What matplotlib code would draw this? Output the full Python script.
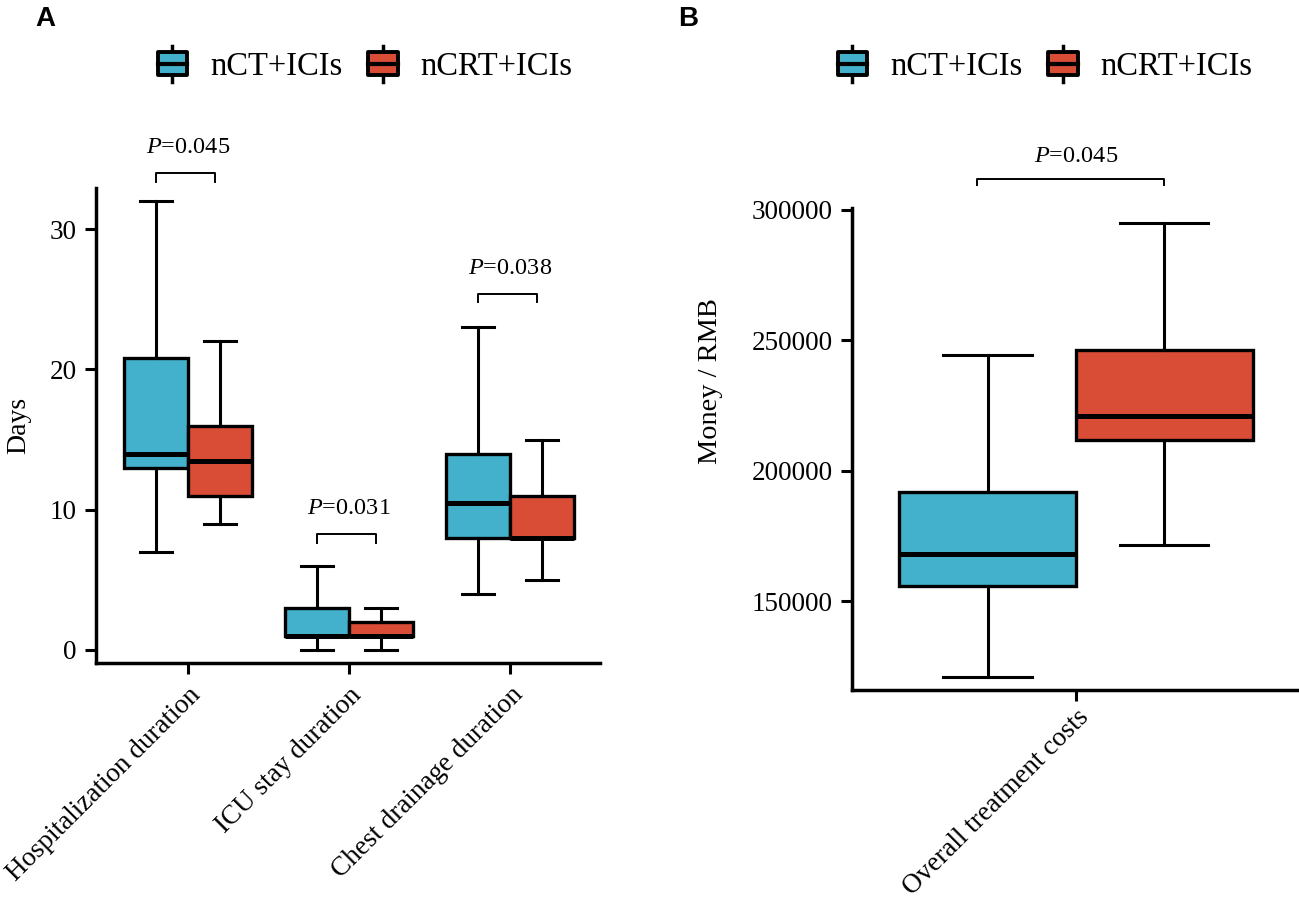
import matplotlib.pyplot as plt
from matplotlib.legend_handler import HandlerBase
from matplotlib.patches import Patch, Rectangle
from matplotlib.lines import Line2D

plt.rcParams['font.family'] = ['Liberation Serif', 'DejaVu Serif']
plt.rcParams['mathtext.fontset'] = 'custom'
plt.rcParams['mathtext.rm'] = 'Liberation Serif'
plt.rcParams['mathtext.it'] = 'Liberation Serif:italic'

groups = ['nCT+ICIs', 'nCRT+ICIs']
colors = ['#44B1CC', '#D94C36']

# panel A: box stats per category, [nCT, nCRT]
cats_a = ['Hospitalization duration', 'ICU stay duration', 'Chest drainage duration']
low_a = [[7, 9], [0, 0], [4, 5]]
q1_a = [[13, 11], [1, 1], [8, 8]]
med_a = [[14, 13.5], [1, 1], [10.5, 8]]
q3_a = [[20.8, 16], [3, 2], [14, 11]]
high_a = [[32, 22], [6, 3], [23, 15]]
p_a = ['0.045', '0.031', '0.038']
p_y_a = [34.0, 8.27, 25.4]

# panel B
cats_b = ['Overall treatment costs']
low_b = [[121100, 171600]]
q1_b = [[155800, 211900]]
med_b = [[168200, 221100]]
q3_b = [[191700, 246400]]
high_b = [[244500, 295000]]
p_b = ['0.045']
p_y_b = [311800]


class BoxHandler(HandlerBase):
    def create_artists(self, legend, orig_handle, xdescent, ydescent,
                       width, height, fontsize, trans):
        x0, y0 = -xdescent, -ydescent
        cx = x0 + width / 2
        cy = y0 + height / 2
        stub = height * 0.3
        w = Line2D([cx, cx], [y0 - stub, y0 + height + stub], color='black',
                   lw=2.5, transform=trans)
        r = Rectangle((x0, y0), width, height, facecolor=orig_handle.get_facecolor(),
                      edgecolor='black', lw=2.8, joinstyle='round', transform=trans)
        m = Line2D([x0, x0 + width], [cy, cy], color='black', lw=3.0, transform=trans)
        return [w, r, m]


def draw_boxes(ax, cats, low, q1, med, q3, high):
    for j in range(2):
        stats = []
        for i in range(len(cats)):
            stats.append(dict(whislo=low[i][j], q1=q1[i][j], med=med[i][j],
                              q3=q3[i][j], whishi=high[i][j], fliers=[]))
        pos = [i + 1 + (j - 0.5) * 0.4 for i in range(len(cats))]
        ax.bxp(stats, positions=pos, widths=0.4, capwidths=0.2, patch_artist=True,
               showfliers=False,
               boxprops=dict(facecolor=colors[j], edgecolor='black', lw=2.4),
               whiskerprops=dict(color='black', lw=2.2),
               capprops=dict(color='black', lw=2.2),
               medianprops=dict(color='black', lw=3.6, solid_capstyle='butt'))
    ax.set_xticks(range(1, len(cats) + 1))
    ax.set_xticklabels(cats, rotation=45, ha='right', va='top',
                       rotation_mode='anchor', fontsize=20)
    for s in ['top', 'right']:
        ax.spines[s].set_visible(False)
    for s in ['left', 'bottom']:
        ax.spines[s].set_linewidth(2.5)
    ax.tick_params(axis='both', width=2.2, length=8, labelsize=19.5, pad=6)


def draw_p(ax, xs, ys, labels, left, right, drop, gap):
    for x, y, lab in zip(xs, ys, labels):
        ax.plot([x + left, x + left, x + right, x + right], [y - drop, y, y, y - drop],
                color='black', lw=1.4, clip_on=False)
        ax.text(x, y + gap, '$P$=' + lab, ha='center', va='center',
                fontsize=17.5, clip_on=False)


fig = plt.figure(figsize=(12.99, 9), dpi=100)

ax1 = fig.add_axes([96 / 1299, 1 - 663 / 900, 504 / 1299, 475 / 900])
draw_boxes(ax1, cats_a, low_a, q1_a, med_a, q3_a, high_a)
ax1.set_xlim(0.429, 3.559)
ax1.set_ylim(-0.93, 32.93)
ax1.set_yticks([0, 10, 20, 30])
ax1.set_ylabel('Days', fontsize=20)
ax1.yaxis.set_label_coords(-0.128, 0.5)
draw_p(ax1, [1, 2, 3], p_y_a, p_a, -0.2, 0.17, 0.62, 1.8)

ax2 = fig.add_axes([852 / 1299, 1 - 690 / 900, 447 / 1299, 482 / 900])
draw_boxes(ax2, cats_b, low_b, q1_b, med_b, q3_b, high_b)
ax2.set_xlim(0.493, 1.505)
ax2.set_ylim(115950, 300700)
ax2.set_yticks([150000, 200000, 250000, 300000])
ax2.tick_params(axis='x', pad=3, labelsize=19.5)
ax2.set_ylabel('Money / RMB', fontsize=20.4)
ax2.yaxis.set_label_coords(-0.289, 0.641)
draw_p(ax2, [1], p_y_b, p_b, -0.224, 0.2, 2300, 8800)

handles = [Patch(facecolor=c, edgecolor='black') for c in colors]
for cx in [0.281, 0.8045]:
    fig.legend(handles, groups, loc='center', bbox_to_anchor=(cx, 0.9256), ncol=2,
               frameon=False, fontsize=23.5, handlelength=0.9, handleheight=0.7,
               handletextpad=0.7, columnspacing=0.8,
               handler_map={Patch: BoxHandler()})

fig.text(45 / 1299, 1 - 19 / 900, 'A', fontsize=20, fontweight='bold',
         family='Liberation Sans', ha='center', va='center')
fig.text(688 / 1299, 1 - 19 / 900, 'B', fontsize=20, fontweight='bold',
         family='Liberation Sans', ha='center', va='center')

fig.savefig('out.png', dpi=100)
